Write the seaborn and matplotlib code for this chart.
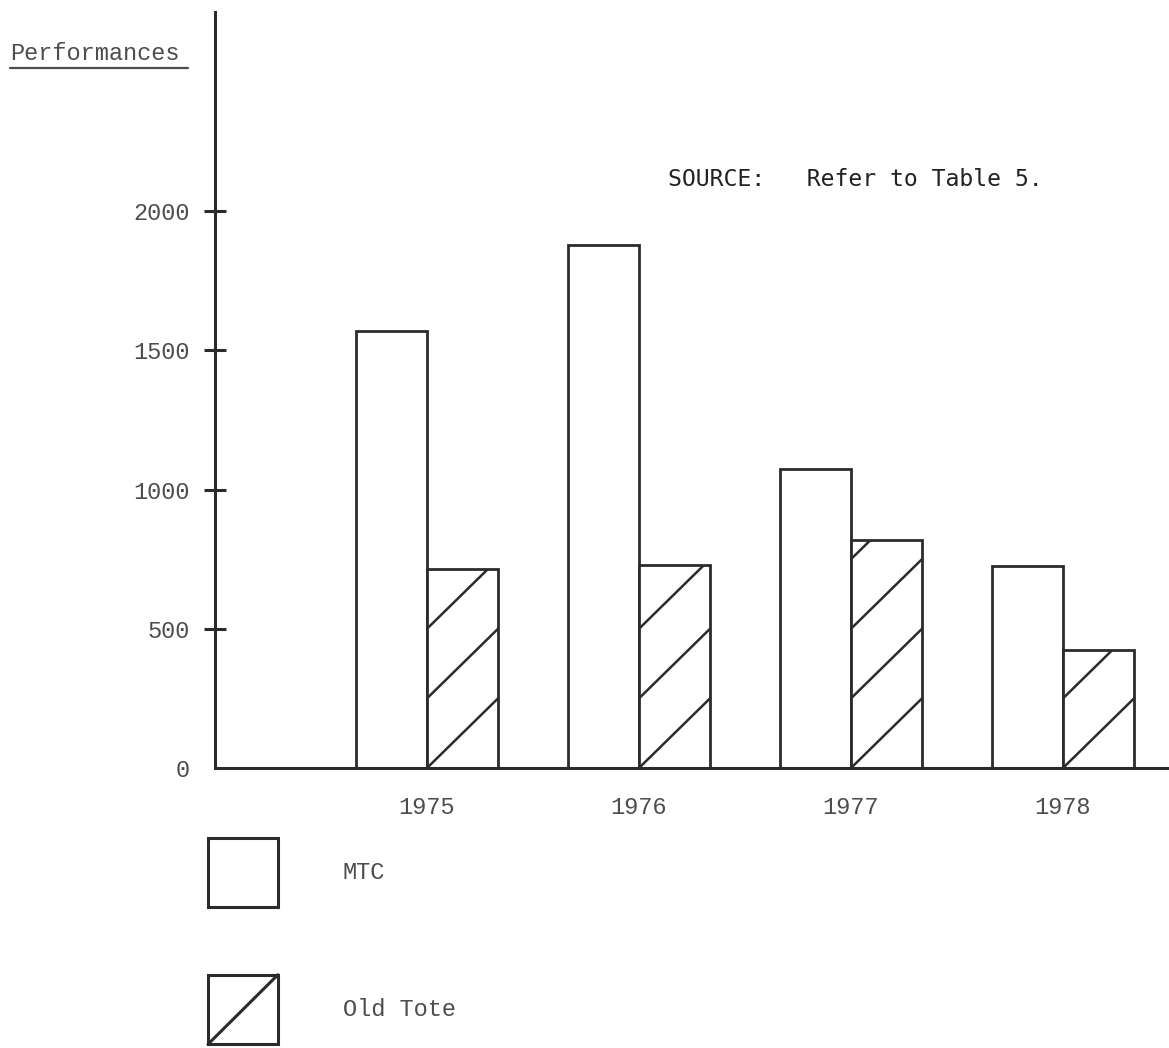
import matplotlib
matplotlib.use("Agg")
import matplotlib.pyplot as plt
import seaborn as sns
import pandas as pd
from matplotlib.patches import Patch, Rectangle
from matplotlib.lines import Line2D
from matplotlib.legend_handler import HandlerBase

# ---- data ----
years = ["1975", "1976", "1977", "1978"]
mtc = [1570, 1880, 1075, 725]
old_tote = [715, 730, 820, 425]
series = ["MTC", "Old Tote"]
ytick_values = [0, 500, 1000, 1500, 2000]

df = pd.DataFrame({
    "Year": years * 2,
    "Performances": mtc + old_tote,
    "Series": [series[0]] * len(years) + [series[1]] * len(years),
})

sns.set_style("white")
plt.rcParams["font.family"] = ["Liberation Mono", "DejaVu Sans Mono"]

INK = "#2b2b2b"
TXT = "#4d4d4d"
W, H = 1169, 1048
fig = plt.figure(figsize=(W / 100, H / 100), dpi=100)
ax = fig.add_axes([215 / W, (H - 768) / H, 1 - 215 / W, (768 - 12) / H])

sns.barplot(data=df, x="Year", y="Performances", hue="Series",
            palette=["white", "white"], saturation=1, edgecolor=INK,
            linewidth=2, width=0.67, ax=ax, legend=False)

# hatch: sparse diagonal lines clipped to Old Tote bars
step = 250
for patch in ax.containers[1]:
    x0, w, h = patch.get_x(), patch.get_width(), patch.get_height()
    k = 0
    while k * step < h:
        ln, = ax.plot([x0, x0 + w], [k * step, (k + 1) * step], color=INK, lw=1.8)
        ln.set_clip_path(patch)
        k += 1

ax.set_xlim(-1.0, 3.5)
ax.set_ylim(0, 2715)
ax.set_xlabel("")
ax.set_ylabel("")
for s in ["top", "right"]:
    ax.spines[s].set_visible(False)
for s in ["left", "bottom"]:
    ax.spines[s].set_color(INK)
    ax.spines[s].set_linewidth(2.2)

ax.set_yticks(ytick_values)
ax.set_yticklabels([str(v) for v in ytick_values])
ax.tick_params(axis="y", left=True, direction="inout", length=16, width=2.2,
               color=INK, pad=10, labelsize=17, labelcolor=TXT)
ax.yaxis.get_major_ticks()[0].tick1line.set_visible(False)
ax.tick_params(axis="x", bottom=False, length=0, pad=20, labelsize=17,
               labelcolor=TXT)

# title-like y label
fig.text(10 / W, 1 - 53 / H, "Performances", ha="left", va="center",
         fontsize=17, color=TXT)
fig.add_artist(Line2D([10 / W, 188 / W], [1 - 68 / H, 1 - 68 / H],
                      transform=fig.transFigure, color=TXT, lw=1.6))

fig.text(668 / W, 1 - 180 / H, "SOURCE:   Refer to Table 5.", ha="left",
         va="center", fontsize=16.7, color="#222222",
         family=["DejaVu Sans Mono"])


class SplitBoxHandler(HandlerBase):
    def create_artists(self, legend, orig_handle, xdescent, ydescent,
                       width, height, fontsize, trans):
        r = Rectangle((-xdescent, -ydescent), width, height, facecolor="white",
                      edgecolor=INK, lw=2.2, transform=trans)
        l = Line2D([-xdescent, -xdescent + width], [-ydescent, -ydescent + height],
                   color=INK, lw=2.2, transform=trans)
        return [r, l]


h_mtc = Patch(facecolor="white", edgecolor=INK, lw=2.2)
h_old = Patch(facecolor="white", edgecolor=INK, lw=2.2)
leg = fig.legend(handles=[h_mtc, h_old], labels=series, loc="upper left",
                 bbox_to_anchor=(208 / W, 1 - 838 / H), frameon=False,
                 borderpad=0, borderaxespad=0, handlelength=2.96,
                 handleheight=4.15, labelspacing=2.85, handletextpad=2.75,
                 prop={"size": 17, "family": "Liberation Mono"},
                 handler_map={h_old: SplitBoxHandler()})
for t in leg.get_texts():
    t.set_color(TXT)

fig.savefig("out.png", dpi=100)
